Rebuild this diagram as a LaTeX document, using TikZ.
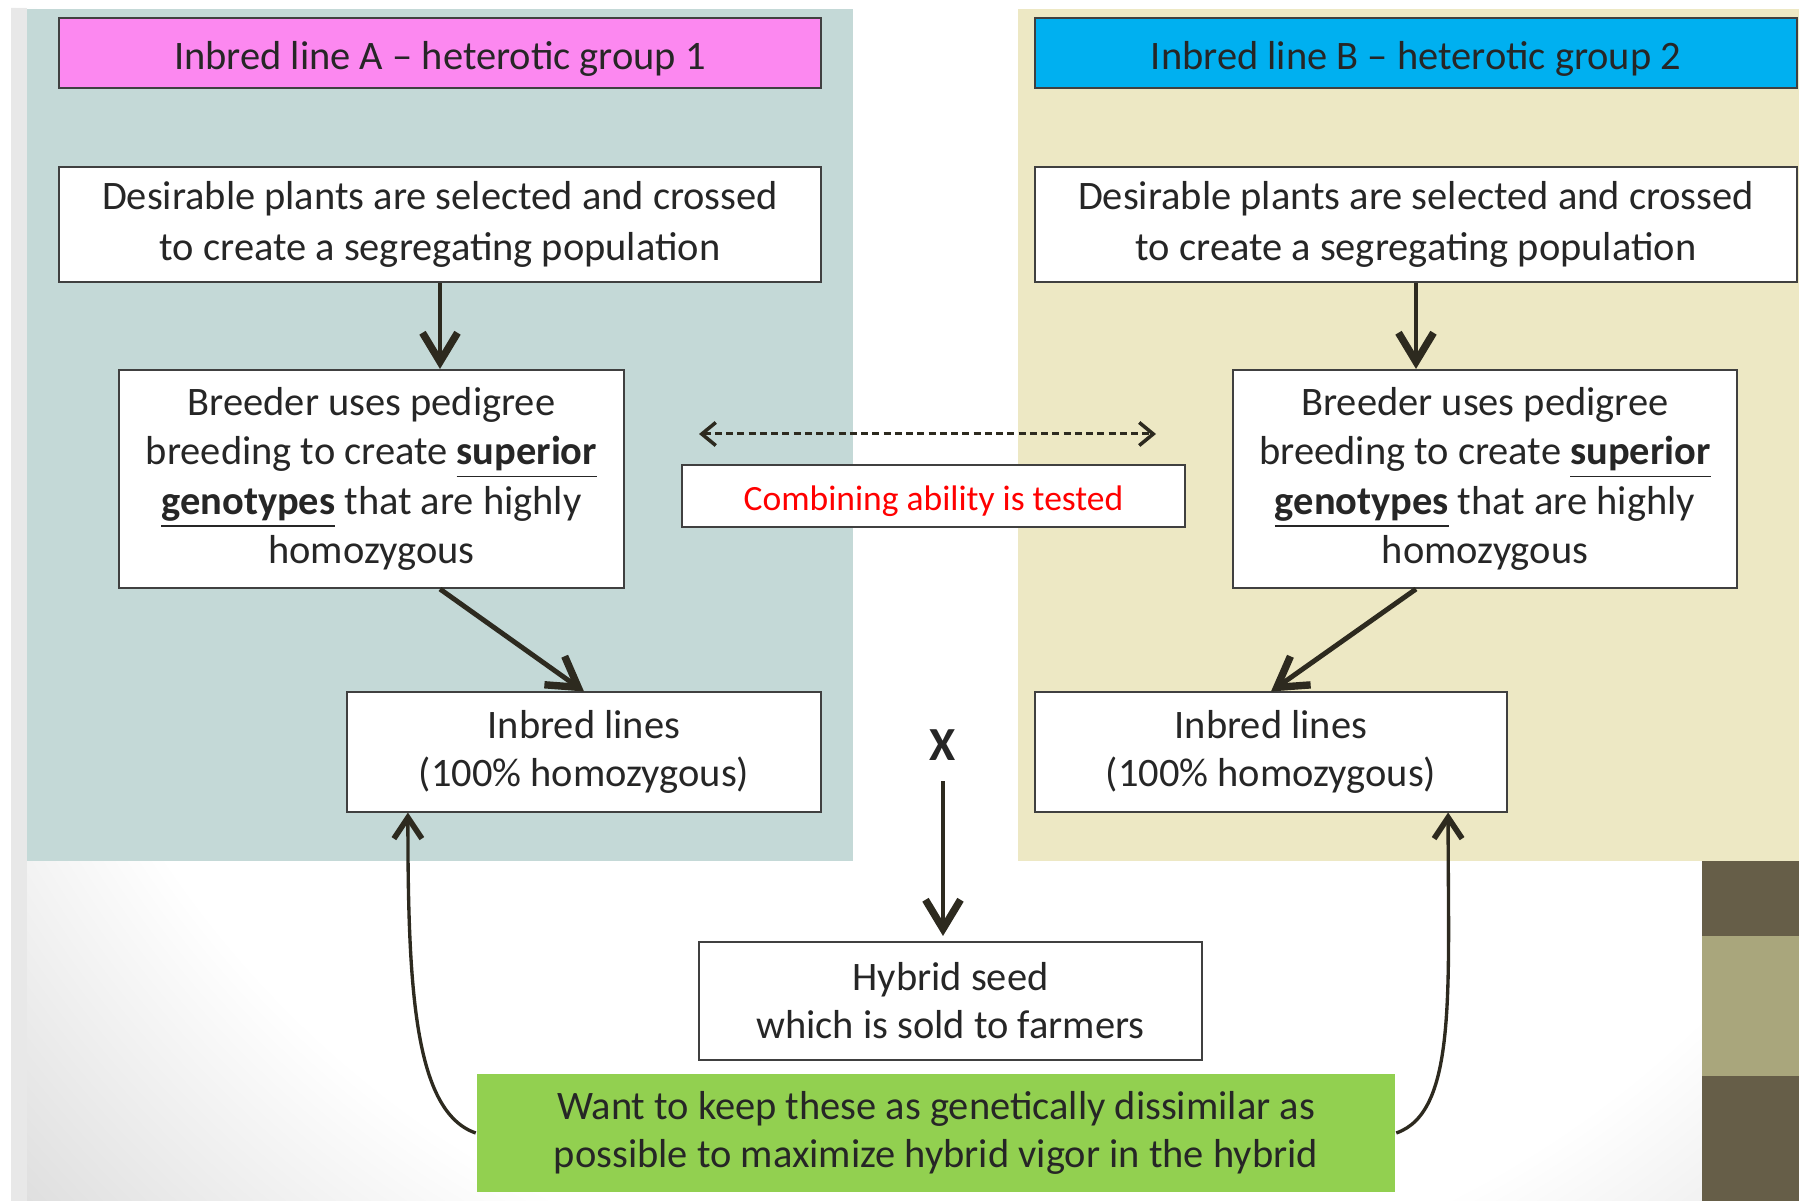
\documentclass[tikz,border=0pt]{standalone}
\usepackage{fontspec}
\setmainfont{Carlito}
\usetikzlibrary{arrows.meta}

\definecolor{panelA}{HTML}{C4D9D7}
\definecolor{panelB}{HTML}{EDE8C4}
\definecolor{groupA}{HTML}{FC88F0}
\definecolor{groupB}{HTML}{00B0F0}
\definecolor{wantgreen}{HTML}{92D050}
\definecolor{arrowdark}{HTML}{2D2A1F}
\definecolor{bardark}{HTML}{665E48}
\definecolor{bartan}{HTML}{A9A67C}
\definecolor{textgray}{HTML}{262626}
\pgfdeclareradialshading{slidebg}{\pgfpoint{0bp}{0bp}}{color(0bp)=(white); color(16.7bp)=(white); color(22.3bp)=(black!13); color(36bp)=(black!13)}

\tikzset{
  box/.style={draw=black!75, line width=0.57pt, fill=white, text=textgray, align=center, inner sep=0pt,
    execute at begin node={\rule{0pt}{1em}}},
  head/.style={box, minimum width=7.62cm, minimum height=0.70cm},
  bigarrow/.style={draw=arrowdark, line width=1.4pt, -{Straight Barb[length=2.9mm, width=3.5mm, line width=2.1pt]}},
  backarrow/.style={draw=arrowdark, line width=0.95pt, -{Straight Barb[length=2.1mm, width=2.8mm, line width=1.6pt]}},
  testarrow/.style={draw=arrowdark, line width=0.85pt, dash pattern=on 2pt off 1.2pt,
    {Straight Barb[length=1.4mm, width=2.3mm, line width=1pt]}-{Straight Barb[length=1.4mm, width=2.3mm, line width=1pt]}}
}

\begin{document}
\begin{tikzpicture}[x=0.01cm, y=-0.01cm, font=\fontsize{11.5}{14.5}\selectfont]
  \useasboundingbox (0,0) rectangle (1799,1201);

  % slide background
  \begin{scope}
    \clip (11,8) rectangle (1799,1201);
    \shade[shading=slidebg] (-500,-1200) rectangle (2500,1800);
  \end{scope}
  \fill[black!9] (11,8) rectangle (27,1201);

  % the two heterotic groups
  \fill[panelA] (27,9) rectangle (853,861);
  \fill[panelB] (1018,9) rectangle (1799,861);

  % bars in the corner
  \fill[bardark] (1702,861) rectangle (1799,936);
  \fill[bartan] (1702,936) rectangle (1799,1076);
  \fill[bardark] (1702,1076) rectangle (1799,1201);

  % headers
  \node[head, fill=groupA] (hdrA) at (440,53) {Inbred line A – heterotic group 1};
  \node[head, fill=groupB] (hdrB) at (1416,53) {Inbred line B – heterotic group 2};

  % group 1
  \node[box, minimum width=7.62cm, minimum height=1.15cm] (selA) at (440,224.5)
    {Desirable plants are selected and crossed\\to create a segregating population};
  \node[box, minimum width=5.05cm, minimum height=2.18cm, font=\fontsize{11.5}{14}\selectfont] (pedA) at (371.5,479)
    {Breeder uses pedigree\\breeding to create \underline{\textbf{superior}}\\\underline{\textbf{genotypes}} that are highly\\homozygous};
  \node[box, minimum width=4.74cm, minimum height=1.19cm, font=\fontsize{11.5}{13.7}\selectfont] (inbA) at (584,752)
    {Inbred lines\\(100\% homozygous)};

  % group 2
  \node[box, minimum width=7.62cm, minimum height=1.15cm] (selB) at (1416,224.5)
    {Desirable plants are selected and crossed\\to create a segregating population};
  \node[box, minimum width=5.03cm, minimum height=2.18cm, font=\fontsize{11.5}{14}\selectfont] (pedB) at (1485,479)
    {Breeder uses pedigree\\breeding to create \underline{\textbf{superior}}\\\underline{\textbf{genotypes}} that are highly\\homozygous};
  \node[box, minimum width=4.72cm, minimum height=1.19cm, font=\fontsize{11.5}{13.7}\selectfont] (inbB) at (1271,752)
    {Inbred lines\\(100\% homozygous)};

  % combining ability
  \node[box, minimum width=5.03cm, minimum height=0.62cm, text=red, font=\fontsize{10.1}{12}\selectfont] (combo) at (933.5,496)
    {Combining ability is tested};
  \coordinate (cmbL) at (699,434);
  \coordinate (cmbR) at (1156,434);

  % cross and hybrid
  \node[text=textgray, inner sep=0.2cm, font=\fontsize{13.5}{14}\selectfont\bfseries] (cross) at (943,745) {X};
  \node[box, minimum width=5.03cm, minimum height=1.18cm, font=\fontsize{11.5}{13.6}\selectfont] (hyb) at (950.5,1001)
    {Hybrid seed\\which is sold to farmers};
  \node[box, draw=none, fill=wantgreen, minimum width=9.18cm, minimum height=1.18cm, font=\fontsize{11.5}{13.6}\selectfont] (want) at (936,1133)
    {Want to keep these as genetically dissimilar as\\possible to maximize hybrid vigor in the hybrid};

  % arrows
  \draw[bigarrow] (selA.south) -- (selA.south |- pedA.north);
  \draw[bigarrow] (selB.south) -- (selB.south |- pedB.north);
  \draw[bigarrow] (selA.south |- pedA.south) -- (inbA.north);
  \draw[bigarrow] (selB.south |- pedB.south) -- (inbB.north);
  \draw[testarrow] (cmbL) -- (cmbR);
  \draw[bigarrow, shorten >=0.05cm] (cross.south) -- (cross.south |- hyb.north);
  \draw[backarrow] (want.west) .. controls +(-61,-21) and +(0,178) .. ([xshift=0.62cm]inbA.south west);
  \draw[backarrow] (want.east) .. controls +(61,-21) and +(0,178) .. ([xshift=-0.6cm]inbB.south east);
\end{tikzpicture}
\end{document}
